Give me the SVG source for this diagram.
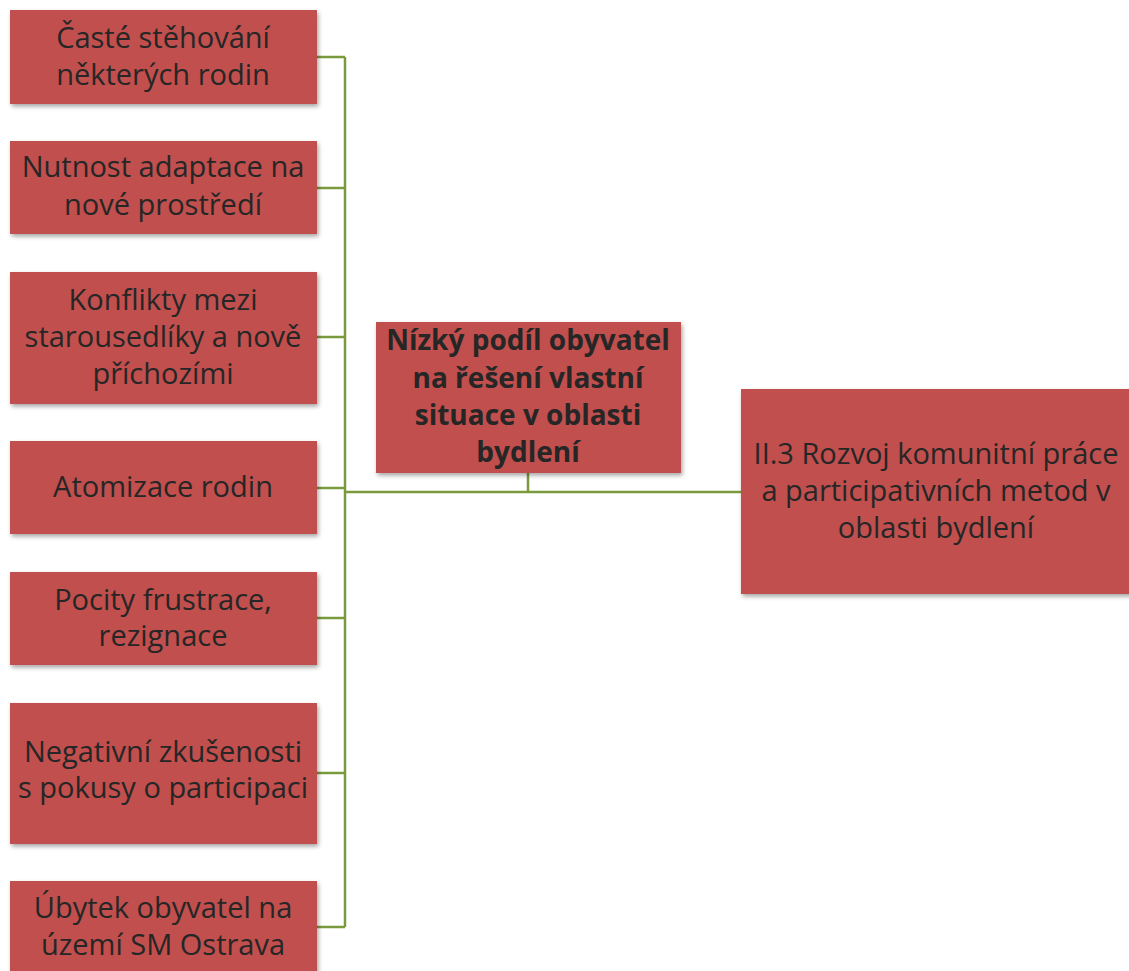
<svg xmlns="http://www.w3.org/2000/svg" width="1129" height="971" viewBox="0 0 1129 971">
<style>
.box{fill:#C0504D;filter:url(#sh)}
.t{font-family:"Open Sans","Liberation Sans",sans-serif;font-size:29px;fill:#262626;text-anchor:middle}
.b{font-weight:bold;font-size:28px}
.c{stroke:#7A9A3C;stroke-width:2.5;fill:none}
</style>
<defs>
<filter id="sh" x="-5%" y="-5%" width="115%" height="120%">
<feDropShadow dx="1.5" dy="2.5" stdDeviation="2" flood-color="#000" flood-opacity="0.35"/>
</filter>
</defs>
<rect width="1129" height="971" fill="#fff"/>
<g id="connectors">
<path class="c" d="M316 57H345M316 188H345M316 337H345M316 488H345M316 618H345M316 773H345M316 927H345M345 57V927M345 492H741M528 473V492"/>
</g>
<g id="n1"><rect class="box" x="10" y="10" width="307" height="94"/><text class="t" x="163" y="48">Časté stěhování</text><text class="t" x="163" y="85">některých rodin</text></g>
<g id="n2"><rect class="box" x="10" y="141" width="307" height="93"/><text class="t" x="163" y="177">Nutnost adaptace na</text><text class="t" x="163" y="215">nové prostředí</text></g>
<g id="n3"><rect class="box" x="10" y="272" width="307" height="132"/><text class="t" x="163" y="310">Konflikty mezi</text><text class="t" x="163" y="347">starousedlíky a nově</text><text class="t" x="163" y="384">příchozími</text></g>
<g id="n4"><rect class="box" x="10" y="441" width="307" height="93"/><text class="t" x="163" y="497">Atomizace rodin</text></g>
<g id="n5"><rect class="box" x="10" y="572" width="307" height="93"/><text class="t" x="163" y="610">Pocity frustrace,</text><text class="t" x="163" y="646">rezignace</text></g>
<g id="n6"><rect class="box" x="10" y="703" width="307" height="141"/><text class="t" x="163" y="762">Negativní zkušenosti</text><text class="t" x="163" y="798">s pokusy o participaci</text></g>
<g id="n7"><rect class="box" x="10" y="881" width="307" height="100"/><text class="t" x="163" y="918">Úbytek obyvatel na</text><text class="t" x="163" y="955">území SM Ostrava</text></g>
<g id="center"><rect class="box" x="376" y="322" width="305" height="151"/><text class="t b" x="528" y="350">Nízký podíl obyvatel</text><text class="t b" x="528" y="388">na řešení vlastní</text><text class="t b" x="528" y="425">situace v oblasti</text><text class="t b" x="528" y="462">bydlení</text></g>
<g id="goal"><rect class="box" x="741" y="389" width="392" height="205"/><text class="t" x="936" y="464">II.3 Rozvoj komunitní práce</text><text class="t" x="936" y="501">a participativních metod v</text><text class="t" x="936" y="538">oblasti bydlení</text></g>
</svg>
